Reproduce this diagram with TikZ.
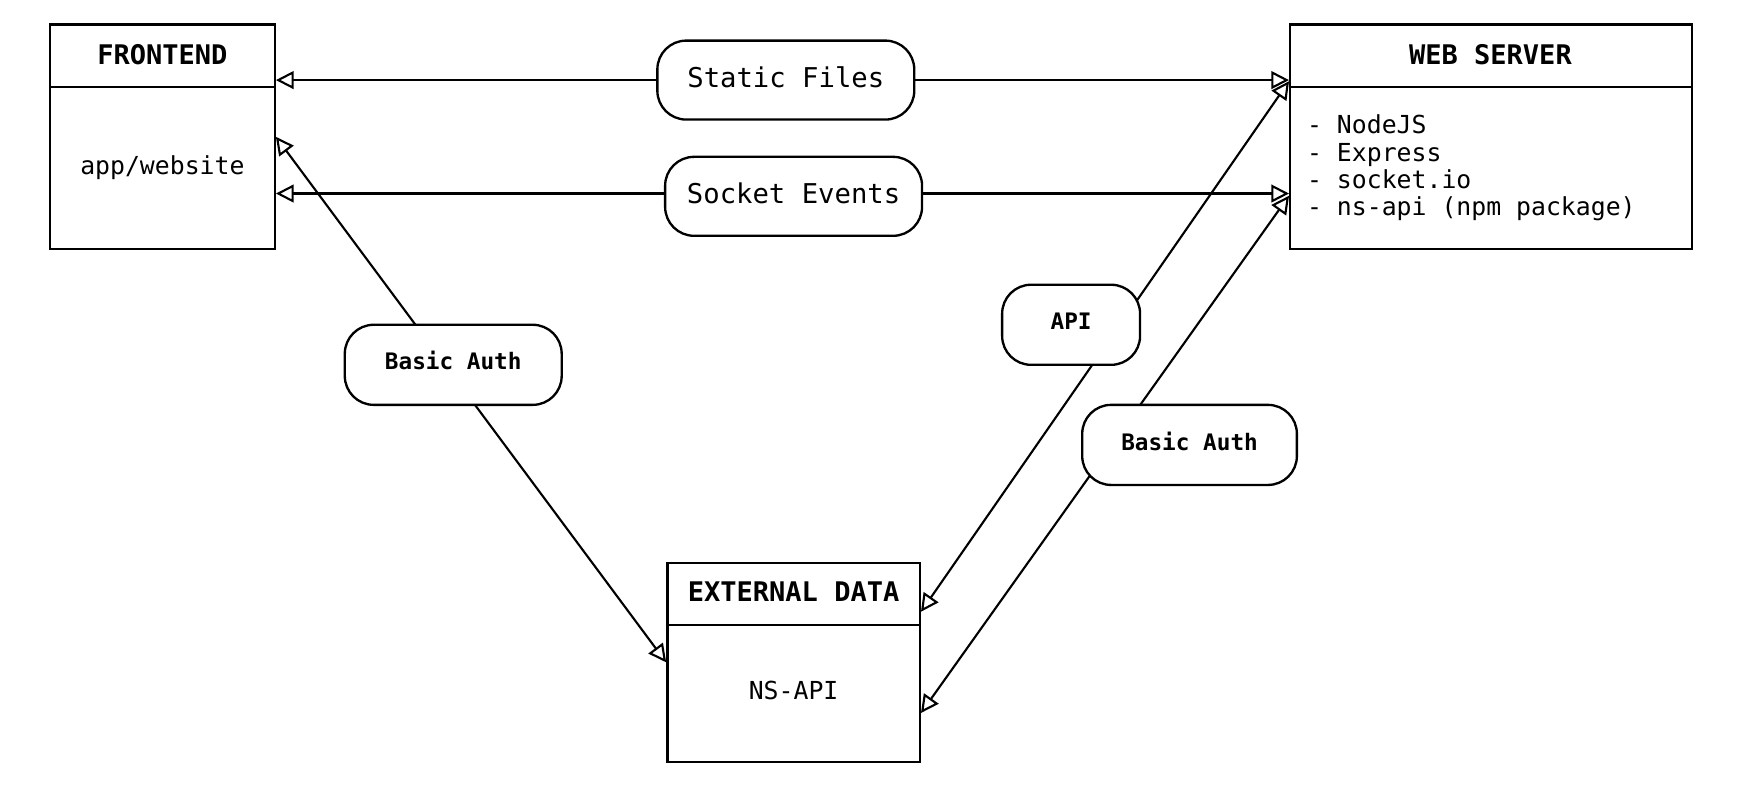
\documentclass[tikz,border=0pt]{standalone}
\usepackage{fontspec}
\setmonofont{DejaVu Sans Mono}
\usetikzlibrary{arrows.meta}
\begin{document}
\begin{tikzpicture}[x=1pt,y=-1pt,
  box/.style={draw, line width=2.1pt, inner sep=0pt, fill=white},
  pill/.style={draw, line width=2.1pt, fill=white, rounded corners=26pt, inner sep=0pt},
  ttl/.style={font=\ttfamily\bfseries\fontsize{24.3}{28}\selectfont, inner sep=0pt, text height=0.73em, text depth=0pt},
  bod/.style={font=\ttfamily\fontsize{22.3}{26}\selectfont, inner sep=0pt, text height=0.73em, text depth=0pt},
  ptxt/.style={font=\ttfamily\fontsize{24.5}{28}\selectfont, text height=0.73em+6pt, text depth=0pt},
  btxt/.style={font=\ttfamily\bfseries\fontsize{20.4}{24}\selectfont, text height=0.73em+2pt, text depth=0pt},
  sep/.style={line width=2.1pt},
  conn/.style={line width=1.9pt, {Triangle[open,length=16pt,width=16pt]}-{Triangle[open,length=16pt,width=16pt]}}
]
\useasboundingbox (0,0) rectangle (1568,707);

% boxes
\node[box, minimum width=202pt, minimum height=202pt] (fe) at (146,123) {};
\draw[sep] (fe.west |- 0,78) -- (fe.east |- 0,78);
\node[ttl] (fet) at (146,54) {FRONTEND};
\node[bod] (feb) at (146,153) {app/website};

\node[box, minimum width=361pt, minimum height=202pt] (ws) at (1340.5,123) {};
\draw[sep] (ws.west |- 0,78) -- (ws.east |- 0,78);
\node[ttl] (wst) at (1340,54) {WEB SERVER};
\node[bod, anchor=west] (ws1) at (1175,116.5) {- NodeJS};
\node[bod, anchor=west] (ws2) at (1175,141.5) {- Express};
\node[bod, anchor=west] (ws3) at (1175,165.5) {- socket.io};
\node[bod, anchor=west] (ws4) at (1175,190.5) {- ns-api (npm package)};

\node[box, minimum width=227pt, minimum height=179pt] (ex) at (713.5,595.5) {};
\draw[sep] (ex.west |- 0,562) -- (ex.east |- 0,562);
\node[ttl] (ext) at (713.5,537) {EXTERNAL DATA};
\node[bod] (exb) at (713.5,625) {NS-API};

% connector end points
\coordinate (feA) at (fe.east |- 0,72);
\coordinate (wsA) at (ws.west |- 0,72);
\coordinate (feB) at (fe.east |- 0,174);
\coordinate (wsB) at (ws.west |- 0,174);
\coordinate (feC) at (fe.east);
\coordinate (exC) at (ex.west);
\coordinate (wsD) at (ws.west |- 0,73);
\coordinate (exD) at (ex.east |- 0,550);
\coordinate (wsE) at (ws.west |- 0,176);
\coordinate (exE) at (ex.east |- 0,641);

% connectors
\draw[conn] (feA) -- (wsA);
\draw[conn] (feB) -- (wsB);
\draw[conn] (feC) -- (exC);
\draw[conn] (wsD) -- (exD);
\draw[conn] (wsE) -- (exE);

% labels
\node[pill, ptxt, minimum width=231pt, minimum height=71pt] (sf) at (706.5,72) {Static Files};
\node[pill, ptxt, minimum width=231pt, minimum height=71pt] (se) at (713.5,176.5) {Socket Events};
\node[pill, btxt, minimum width=195pt, minimum height=72pt] (ba1) at (407.5,328) {Basic Auth};
\node[pill, btxt, minimum width=124pt, minimum height=72pt] (api) at (963,292) {API};
\node[pill, btxt, minimum width=193pt, minimum height=72pt] (ba2) at (1069.5,400) {Basic Auth};
\end{tikzpicture}
\end{document}
